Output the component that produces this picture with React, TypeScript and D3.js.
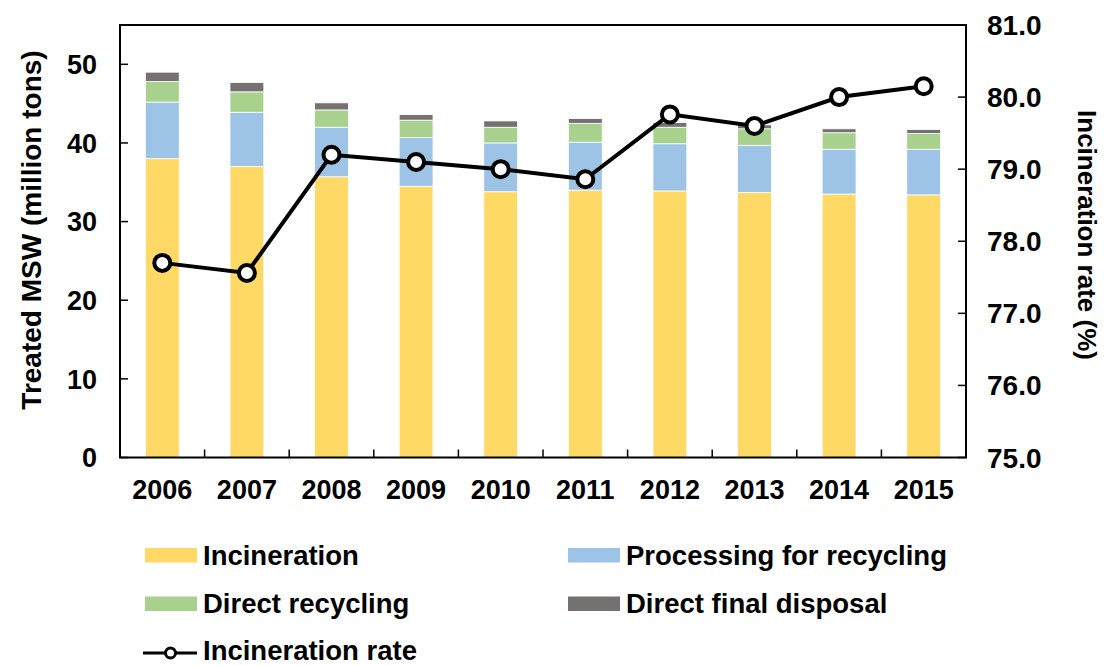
import React from 'react';
import * as d3 from 'd3';

const years = ['2006', '2007', '2008', '2009', '2010', '2011', '2012', '2013', '2014', '2015'];
const incineration = [38.0, 37.0, 35.7, 34.5, 33.8, 34.0, 33.9, 33.7, 33.5, 33.4];
const processing = [7.2, 6.9, 6.3, 6.2, 6.2, 6.1, 6.0, 6.0, 5.7, 5.8];
const directRecycling = [2.6, 2.6, 2.2, 2.2, 2.0, 2.4, 2.1, 2.1, 2.1, 2.0];
const finalDisposal = [1.2, 1.2, 0.9, 0.7, 0.8, 0.6, 0.6, 0.5, 0.5, 0.5];
const incinerationRate = [77.7, 77.56, 79.2, 79.1, 79.0, 78.86, 79.76, 79.6, 80.0, 80.15];

const leftTicks = [0, 10, 20, 30, 40, 50];
const rightTicks = [75, 76, 77, 78, 79, 80, 81];

const seriesNames = ['Incineration', 'Processing for recycling', 'Direct recycling', 'Direct final disposal'];
const seriesKeys = ['inc', 'proc', 'rec', 'disp'];
const colors = ['#FFD966', '#9DC3E6', '#A9D18E', '#767171'];

const font = '"Liberation Sans", Arial, sans-serif';

const App = () => {
  const width = 1105;
  const height = 666;
  const margin = { top: 25, right: 139, bottom: 208.5, left: 120 };
  const x0 = margin.left;
  const x1 = width - margin.right;
  const y0 = height - margin.bottom;
  const y1 = margin.top;

  const rows = years.map((yr, i) => ({
    year: yr,
    inc: incineration[i],
    proc: processing[i],
    rec: directRecycling[i],
    disp: finalDisposal[i],
  }));

  const stack = d3.stack<any>().keys(seriesKeys)(rows);

  const x = d3.scaleBand().domain(years).range([x0, x1]).paddingInner(0.6).paddingOuter(0.3);
  const step = (x1 - x0) / years.length;
  const y = d3.scaleLinear().domain([0, 55]).range([y0, y1]);
  const yr = d3.scaleLinear().domain([75, 81]).range([y0, y1]);

  const line = d3
    .line<number>()
    .x((_, i) => (x(years[i]) ?? 0) + x.bandwidth() / 2)
    .y((d) => yr(d));

  const fs = 27;
  const legendFs = 27.5;

  return (
    <svg
      width={width}
      height={height}
      style={{ position: 'absolute', left: 0, top: 0, background: '#fff' }}
      fontFamily={font}
      fontWeight="bold"
    >
      {/* bars */}
      {stack.map((s, si) => (
        <g key={si} fill={colors[si]}>
          {s.map((d, i) => (
            <rect
              key={i}
              x={x(years[i])}
              width={x.bandwidth()}
              y={y(d[1])}
              height={y(d[0]) - y(d[1])}
              stroke="#fff"
              strokeWidth={0.8}
            />
          ))}
        </g>
      ))}

      {/* frame */}
      <rect x={x0} y={y1} width={x1 - x0} height={y0 - y1} fill="none" stroke="#000" strokeWidth={2} />

      {/* left ticks */}
      {leftTicks.map((t) => (
        <g key={t}>
          <line x1={x0} x2={x0 + 8} y1={y(t)} y2={y(t)} stroke="#000" strokeWidth={1.5} />
          <text x={97} y={y(t)} dy="0.36em" textAnchor="end" fontSize={fs}>
            {t}
          </text>
        </g>
      ))}

      {/* right ticks */}
      {rightTicks.map((t) => (
        <g key={t}>
          <line x1={x1 - 8} x2={x1} y1={yr(t)} y2={yr(t)} stroke="#000" strokeWidth={1.5} />
          <text x={987} y={yr(t)} dy="0.36em" textAnchor="start" fontSize={28}>
            {t.toFixed(1)}
          </text>
        </g>
      ))}

      {/* x ticks */}
      {years.slice(1).map((yrs, i) => (
        <line
          key={yrs}
          x1={x0 + step * (i + 1)}
          x2={x0 + step * (i + 1)}
          y1={y0}
          y2={y0 - 8}
          stroke="#000"
          strokeWidth={1.5}
        />
      ))}
      {years.map((yrs) => (
        <text key={yrs} x={(x(yrs) ?? 0) + x.bandwidth() / 2} y={499} textAnchor="middle" fontSize={fs}>
          {yrs}
        </text>
      ))}

      {/* line */}
      <path d={line(incinerationRate) ?? ''} fill="none" stroke="#000" strokeWidth={4} />
      {incinerationRate.map((v, i) => (
        <circle
          key={i}
          cx={(x(years[i]) ?? 0) + x.bandwidth() / 2}
          cy={yr(v)}
          r={8}
          fill="#fff"
          stroke="#000"
          strokeWidth={4}
        />
      ))}

      {/* axis titles */}
      <text transform="translate(41,230) rotate(-90)" textAnchor="middle" fontSize={28}>
        Treated MSW (million tons)
      </text>
      <text transform="translate(1078,235) rotate(90)" textAnchor="middle" fontSize={26}>
        Incineration rate (%)
      </text>

      {/* legend */}
      {seriesNames.map((name, i) => {
        const lx = i % 2 === 0 ? 145 : 568;
        const ly = 548 + Math.floor(i / 2) * 48.5;
        return (
          <g key={name}>
            <rect x={lx} y={ly} width={52} height={14.5} fill={colors[i]} />
            <text x={lx + 58} y={ly + 7} dy="0.36em" fontSize={legendFs}>
              {name}
            </text>
          </g>
        );
      })}
      <g>
        <line x1={143} x2={197} y1={653} y2={653} stroke="#000" strokeWidth={3} />
        <circle cx={170.5} cy={653} r={5} fill="#fff" stroke="#000" strokeWidth={3} />
        <text x={203} y={650} dy="0.36em" fontSize={legendFs}>
          Incineration rate
        </text>
      </g>
    </svg>
  );
};

export default App;
